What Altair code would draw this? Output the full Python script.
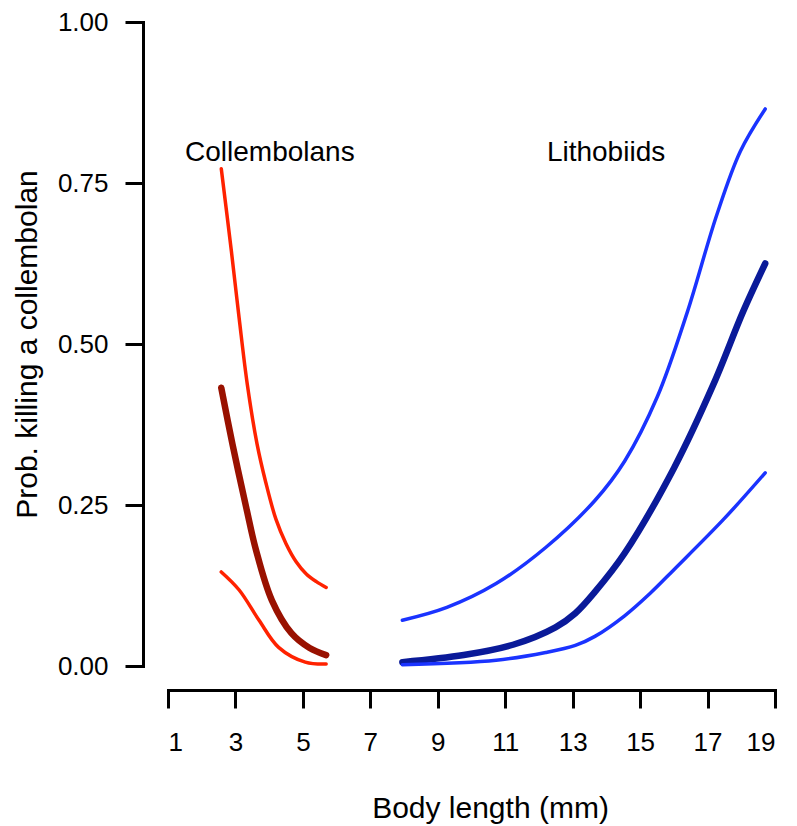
import altair as alt
import pandas as pd

# Collembolans (prey = collembolan)
col_up_x = [2.58, 2.88, 3.11, 3.35, 3.64, 3.90, 4.20, 4.50, 4.80, 5.10, 5.40, 5.69]
col_up_p = [0.772, 0.644, 0.540, 0.438, 0.345, 0.285, 0.228, 0.190, 0.162, 0.143, 0.131, 0.122]
col_mean_x = [2.58, 2.91, 3.32, 3.61, 4.08, 4.66, 5.20, 5.69]
col_mean_p = [0.432, 0.345, 0.246, 0.180, 0.102, 0.051, 0.028, 0.017]
col_low_x = [2.58, 3.11, 3.70, 4.28, 5.07, 5.69]
col_low_p = [0.146, 0.118, 0.071, 0.029, 0.006, 0.003]

# Lithobiids
lit_up_x = [7.95, 9.27, 10.73, 12.20, 13.66, 14.54, 15.51, 16.39, 17.27, 17.97, 18.71]
lit_up_p = [0.071, 0.091, 0.128, 0.184, 0.257, 0.318, 0.418, 0.548, 0.700, 0.799, 0.865]
lit_mean_x = [7.95, 9.77, 11.23, 12.49, 13.08, 13.66, 14.54, 16.01, 17.18, 18.06, 18.71]
lit_mean_p = [0.006, 0.017, 0.033, 0.060, 0.082, 0.115, 0.175, 0.308, 0.438, 0.551, 0.625]
lit_low_x = [7.95, 10.73, 12.20, 13.08, 13.66, 14.54, 15.30, 16.01, 17.48, 18.71]
lit_low_p = [0.002, 0.009, 0.021, 0.032, 0.046, 0.078, 0.113, 0.150, 0.228, 0.300]

curve_names = ["col_up", "col_mean", "col_low", "lit_up", "lit_mean", "lit_low"]
curve_colors = ["#ff2200", "#991100", "#ff2200", "#1a33ff", "#0a1a99", "#1a33ff"]
curve_widths = [3.5, 6.5, 3.5, 3.5, 6.5, 3.5]

label_texts = ["Collembolans", "Lithobiids"]
label_x = [4.02, 13.99]
label_y = [0.797, 0.797]

x_ticks = [1, 3, 5, 7, 9, 11, 13, 15, 17, 19]
y_ticks = [0, 0.25, 0.5, 0.75, 1.0]

series = {
    "col_up": (col_up_x, col_up_p),
    "col_mean": (col_mean_x, col_mean_p),
    "col_low": (col_low_x, col_low_p),
    "lit_up": (lit_up_x, lit_up_p),
    "lit_mean": (lit_mean_x, lit_mean_p),
    "lit_low": (lit_low_x, lit_low_p),
}
rows = []
for name, col, w in zip(curve_names, curve_colors, curve_widths):
    xs, ps = series[name]
    for xv, pv in zip(xs, ps):
        rows.append({"curve": name, "x": xv, "p": pv, "c": col, "w": w})
df = pd.DataFrame(rows)
labels_df = pd.DataFrame({"text": label_texts, "x": label_x, "p": label_y})

FONT = "Liberation Sans"

x_enc = alt.X(
    "x:Q",
    scale=alt.Scale(domain=[1, 19], nice=False, zero=False),
    axis=alt.Axis(
        values=x_ticks, format="d", offset=24, tickSize=18, labelPadding=21,
        title="Body length (mm)", titleX=322, titleY=127, titleBaseline="alphabetic",
        titleAnchor="middle",
    ),
)
y_enc = alt.Y(
    "p:Q",
    scale=alt.Scale(domain=[0, 1], nice=False, zero=False),
    axis=alt.Axis(
        values=y_ticks, format=".2f", offset=25, tickSize=18, labelPadding=17,
        title="Prob. killing a collembolan", titleX=-107, titleY=322,
        titleBaseline="alphabetic", titleAngle=-90, titleAnchor="middle",
    ),
)

lines = alt.Chart(df).mark_line(interpolate="catmull-rom", strokeCap="round", strokeJoin="round", clip=False).encode(
    x=x_enc,
    y=y_enc,
    detail="curve:N",
    color=alt.Color("c:N", scale=None),
    strokeWidth=alt.StrokeWidth("w:Q", scale=None),
    order="x:Q",
)

texts = alt.Chart(labels_df).mark_text(
    font=FONT, fontSize=28, color="black", align="center", baseline="middle"
).encode(x="x:Q", y="p:Q", text="text:N")

# total svg width kept at 781 px (= 797 window - 2*8 body margin) so the page is not shrunk
chart = alt.layer(lines, texts).properties(
    width=607, height=644,
    autosize=alt.AutoSizeParams(type="none"),
    padding={"left": 160, "top": 14, "right": 14, "bottom": 158},
).configure_view(stroke=None).configure_axis(
    grid=False,
    domainColor="black", domainWidth=3, domainCap="square",
    tickColor="black", tickWidth=3,
    labelFont=FONT, labelFontSize=26, labelColor="black",
    titleFont=FONT, titleFontSize=30, titleFontWeight="normal", titleColor="black",
)

chart.save("out.html", embed_options={"renderer": "svg", "actions": False})
